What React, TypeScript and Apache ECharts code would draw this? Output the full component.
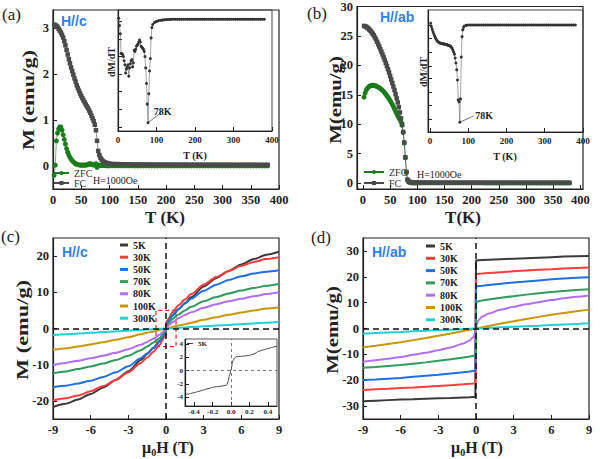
import React, { useEffect, useRef } from "react";
import * as echarts from "echarts";

// ---------- data ----------
const tLow = [2,4,6,8,10,12,14,16,18,20,22,24,26,28,30,32,34,36,38,40,42,44,46,48,50,52,54,56,58,60,62,64,66,68,70,72,74,76,78,80,82,84,86,88,90,92,94,96,98,100];
const tTail = [105,110,115,120,125,130,135,140,145,150,155,160,165,170,175,180,185,190,195,200,205,210,215,220,225,230,235,240,245,250,255,260,265,270,275,280,285,290,295,300,305,310,315,320,325,330,335,340,345,350,355,360,365,370,375,380];

// panel (a): H//c
const fcLowA = [3.08,3.07,3.05,3.03,2.99,2.95,2.91,2.86,2.80,2.72,2.63,2.53,2.43,2.33,2.24,2.15,2.07,1.99,1.91,1.84,1.76,1.70,1.64,1.58,1.53,1.48,1.43,1.39,1.34,1.30,1.26,1.21,1.16,1.10,1.04,0.98,0.90,0.78,0.55,0.33,0.24,0.18,0.14,0.11,0.09,0.08,0.07,0.06,0.055,0.05];
const fcTailA = [0.046,0.044,0.042,0.041,0.040,0.039,0.038,0.037,0.036,0.036,0.035,0.035,0.034,0.034,0.034,0.033,0.033,0.033,0.032,0.032,0.032,0.032,0.031,0.031,0.031,0.031,0.031,0.030,0.030,0.030,0.030,0.030,0.030,0.030,0.029,0.029,0.029,0.029,0.029,0.029,0.029,0.029,0.028,0.028,0.028,0.028,0.028,0.028,0.028,0.028,0.028,0.028,0.027,0.027,0.027,0.027];
const zfcLowA = [-0.2,0.02,0.55,0.72,0.81,0.85,0.85,0.78,0.68,0.58,0.48,0.38,0.30,0.24,0.19,0.15,0.12,0.09,0.07,0.05,0.04,0.03,0.025,0.02,0.02,0.02,0.02,0.02,0.02,0.025,0.03,0.05,0.05,0.04,0.03,0.02,0.03,0.05,-0.03,0.02,0.015,0.012,0.01,0.01,0.01,0.01,0.008,0.008,0.007,0.006];
const zfcTailA = [0.006,0.006,0.005,0.005,0.005,0.005,0.005,0.005,0.004,0.004,0.004,0.004,0.004,0.004,0.004,0.004,0.004,0.004,0.004,0.004,0.004,0.004,0.004,0.004,0.004,0.004,0.004,0.004,0.004,0.004,0.004,0.004,0.004,0.004,0.004,0.004,0.004,0.004,0.004,0.004,0.004,0.004,0.004,0.004,0.004,0.004,0.004,0.004,0.004,0.004,0.004,0.004,0.004,0.004,0.004,0.004];

// panel (b): H//ab
const fcLowB = [26.7,26.65,26.55,26.4,26.25,26.05,25.85,25.6,25.35,25.1,24.75,24.4,24.0,23.6,23.2,22.75,22.3,21.85,21.4,20.9,20.4,19.9,19.35,18.8,18.2,17.6,17.0,16.4,15.8,15.1,14.4,13.7,12.9,12.0,11.0,10.0,8.7,6.9,4.4,1.9,0.6,0.3,0.2,0.15,0.13,0.12,0.11,0.1,0.1,0.09];
const fcTailB = [0.09,0.088,0.086,0.084,0.082,0.08,0.079,0.078,0.077,0.076,0.075,0.074,0.073,0.072,0.071,0.07,0.07,0.069,0.069,0.068,0.068,0.067,0.067,0.066,0.066,0.065,0.065,0.065,0.064,0.064,0.064,0.063,0.063,0.063,0.062,0.062,0.062,0.061,0.061,0.061,0.061,0.06,0.06,0.06,0.06,0.06,0.059,0.059,0.059,0.059,0.059,0.058,0.058,0.058,0.058,0.058];
const zfcLowB = [14.6,15.3,15.8,16.1,16.3,16.45,16.55,16.6,16.6,16.6,16.55,16.5,16.4,16.3,16.2,16.05,15.9,15.75,15.55,15.35,15.1,14.85,14.6,14.3,14.0,13.7,13.35,13.0,12.6,12.2,11.8,11.4,11.1,10.8,10.4,9.8,8.6,6.8,4.3,1.8,0.5,0.2,0.12,0.08,0.06,0.05,0.05,0.04,0.04,0.04];
const zfcTailB = [0.035,0.034,0.034,0.033,0.033,0.032,0.032,0.031,0.031,0.03,0.03,0.03,0.029,0.029,0.029,0.028,0.028,0.028,0.027,0.027,0.027,0.026,0.026,0.026,0.025,0.025,0.025,0.025,0.024,0.024,0.024,0.024,0.023,0.023,0.023,0.023,0.022,0.022,0.022,0.022,0.022,0.021,0.021,0.021,0.021,0.021,0.021,0.02,0.02,0.02,0.02,0.02,0.02,0.02,0.02,0.02];

// insets dM/dT (arbitrary units, plateau = 0, dip = -1)
const tInset = [2,4,6,8,10,12,14,16,18,20,22,24,26,28,30,32,34,36,38,40,42,44,46,48,50,52,54,56,58,60,62,64,66,68,70,72,74,76,78,80,82,84,86,88,90,95,100];
const dmdtLowA = [0.01,-0.06,-0.14,-0.33,-0.33,-0.34,-0.36,-0.40,-0.44,-0.52,-0.48,-0.46,-0.44,-0.55,-0.47,-0.43,-0.40,-0.39,-0.46,-0.42,-0.30,-0.31,-0.29,-0.26,-0.25,-0.24,-0.22,-0.20,-0.22,-0.26,-0.27,-0.28,-0.29,-0.31,-0.36,-0.47,-0.62,-0.82,-1.0,-0.72,-0.50,-0.38,-0.18,-0.08,-0.05,-0.03,-0.02];
const dmdtLowB = [0.017,-0.017,-0.045,-0.07,-0.09,-0.11,-0.13,-0.144,-0.158,-0.168,-0.175,-0.18,-0.185,-0.188,-0.19,-0.192,-0.193,-0.195,-0.196,-0.198,-0.2,-0.202,-0.205,-0.208,-0.212,-0.216,-0.22,-0.23,-0.24,-0.257,-0.277,-0.3,-0.34,-0.39,-0.46,-0.565,-0.77,-0.79,-1.0,-0.76,-0.33,-0.12,-0.05,-0.024,-0.01,-0.004,0];
const dmdtTailA = [-0.015,-0.01,-0.008,-0.005,-0.003,-0.002,-0.001,0,0,0,0,0,0,0,0,0,0,0,0,0,0,0,0,0,0,0,0,0,0,0,0,0,0,0,0,0,0,0,0,0,0,0,0,0,0,0,0,0,0,0,0,0,0,0,0,0];
const dmdtTailB = [0,0,0,0,0,0,0,0,0,0,0,0,0,0,0,0,0,0,0,0,0,0,0,0,0,0,0,0,0,0,0,0,0,0,0,0,0,0,0,0,0,0,0,0,0,0,0,0,0,0,0,0,0,0,0,0];

// panel (c): M(H), H//c
const fieldC = [-9,-8,-7,-6,-5,-4,-3,-2,-1.5,-1,-0.5,-0.25,-0.05,0,0.05,0.25,0.5,1,1.5,2,3,4,5,6,7,8,9];
const m5C = [-21.7,-20.8,-19.6,-18.1,-16.3,-14.2,-11.8,-8.7,-7.0,-5.3,-3.4,-2.5,-2.1,0,2.0,2.4,3.5,5.3,7.0,8.6,11.6,13.9,15.9,17.7,19.2,20.4,21.2];
const m30C = [-19.9,-19.3,-18.5,-17.3,-15.9,-14.2,-12.1,-9.5,-8.0,-6.4,-4.5,-3.0,-1.6,0,1.6,3.0,4.5,6.4,8.0,9.5,12.1,14.2,15.9,17.3,18.4,19.2,19.7];
const m50C = [-16.2,-15.8,-15.2,-14.4,-13.4,-12.1,-10.4,-8.2,-6.9,-5.4,-3.6,-2.3,-1.0,0,1.0,2.3,3.6,5.4,6.9,8.2,10.4,12.1,13.4,14.4,15.2,15.7,16.1];
const m70C = [-12.4,-11.9,-11.2,-10.5,-9.7,-8.7,-7.5,-6.0,-5.0,-3.9,-2.6,-1.6,-0.6,0,0.6,1.6,2.6,3.9,5.0,6.0,7.5,8.7,9.7,10.5,11.2,11.8,12.3];
const m80C = [-10.1,-9.5,-8.9,-8.2,-7.5,-6.7,-5.7,-4.5,-3.7,-2.8,-1.7,-1.0,-0.35,0,0.35,1.0,1.7,2.8,3.7,4.5,5.7,6.7,7.5,8.2,8.9,9.5,10.0];
const m100C = [-5.9,-5.5,-5.0,-4.4,-3.8,-3.1,-2.4,-1.6,-1.2,-0.8,-0.4,-0.2,-0.04,0,0.04,0.2,0.4,0.8,1.2,1.6,2.4,3.1,3.8,4.4,5.0,5.5,5.9];
const m300C = [-1.8,-1.6,-1.4,-1.2,-1.0,-0.8,-0.6,-0.4,-0.3,-0.2,-0.1,-0.05,-0.01,0,0.01,0.05,0.1,0.2,0.3,0.4,0.6,0.8,1.0,1.2,1.4,1.6,1.8];

// inset of (c): 5 K low field
const fieldIn = [-0.5,-0.45,-0.4,-0.35,-0.3,-0.25,-0.2,-0.15,-0.1,-0.05,-0.03,-0.02,0,0.02,0.04,0.06,0.1,0.15,0.2,0.25,0.3,0.35,0.4,0.45,0.5];
const m5In = [-3.6,-3.45,-3.3,-3.1,-2.9,-2.7,-2.5,-2.4,-2.3,-2.2,-1.6,-0.9,0.1,1.5,1.9,2.1,2.15,2.2,2.3,2.5,2.9,3.1,3.3,3.5,3.7];

// panel (d): M(H), H//ab
const fieldD = [-9,-8,-7,-6,-5,-4,-3,-2,-1,-0.5,-0.2,-0.05,0,0,0.05,0.2,0.5,1,2,3,4,5,6,7,8,9];
const m5D = [-28.1,-27.9,-27.7,-27.5,-27.4,-27.2,-27.0,-26.9,-26.7,-26.6,-26.5,-26.5,-26.5,26.3,26.4,26.4,26.5,26.6,26.8,27.0,27.2,27.4,27.6,27.8,27.9,28.0];
const m30D = [-23.8,-23.5,-23.3,-23.0,-22.8,-22.5,-22.2,-21.9,-21.6,-21.4,-21.3,-21.2,-21.2,21.1,21.1,21.2,21.3,21.5,21.8,22.1,22.4,22.7,22.9,23.2,23.4,23.6];
const m50D = [-19.9,-19.7,-19.4,-19.1,-18.7,-18.3,-17.9,-17.4,-16.9,-16.6,-16.4,-16.3,-16.2,16.2,16.3,16.4,16.5,16.8,17.3,17.8,18.2,18.6,19.0,19.3,19.6,19.8];
const m70D = [-15.2,-14.9,-14.5,-14.1,-13.6,-13.1,-12.5,-11.9,-11.2,-10.8,-10.5,-10.1,-9.9,9.8,10.2,10.5,10.8,11.2,11.9,12.5,13.1,13.6,14.1,14.5,14.9,15.2];
const m80D = [-12.9,-12.3,-11.7,-11.0,-10.2,-9.4,-8.4,-7.3,-5.8,-4.6,-3.3,-1.5,0,0,1.5,3.3,4.6,5.8,7.3,8.4,9.4,10.2,11.0,11.7,12.3,12.8];
const m100D = [-7.3,-6.7,-6.0,-5.3,-4.5,-3.7,-2.8,-1.9,-1.0,-0.5,-0.2,-0.05,0,0,0.05,0.2,0.5,1.0,1.9,2.8,3.7,4.5,5.3,6.0,6.7,7.3];
const m300D = [-2.0,-1.78,-1.55,-1.33,-1.1,-0.89,-0.67,-0.44,-0.22,-0.1,-0.04,-0.01,0,0,0.01,0.04,0.1,0.22,0.44,0.67,0.89,1.1,1.33,1.55,1.78,2.0];

const tempNames = ["5K","30K","50K","70K","80K","100K","300K"];
const tempColors = ["#3a3a3a","#ff3b3b","#1f6fe0","#2f9b5c","#b06ff0","#c8960a","#1fd2d2"];

const ticksT = [0,50,100,150,200,250,300,350,400];
const ticksTin = [0,100,200,300,400];
const ticksMa = [0,1,2,3];
const ticksMb = [0,5,10,15,20,25,30];
const ticksH = [-9,-6,-3,0,3,6,9];
const ticksMc = [-20,-10,0,10,20];
const ticksMd = [-30,-20,-10,0,10,20,30];
const ticksHin = [-0.4,-0.2,0,0.2,0.4];
const ticksMin = [-4,-2,0,2,4];
const ticksDa = [-1.04,-0.87,-0.7,-0.53,-0.36,-0.19,-0.02];
const ticksDb = [-0.97,-0.83,-0.69,-0.55,-0.42,-0.28,-0.14,0];

// ---------- helpers ----------
const SERIF = "'Liberation Serif','Times New Roman',serif";
const SANS = "'Liberation Sans',Arial,sans-serif";
const INK = "#222";
const BLUE = "#2f80e8";

const zip = (xs: number[], ys: number[]) => xs.map((x, i) => [x, ys[i]]);

function axis(gridIndex: number, min: number, max: number, ticks: number[], fontSize: number, showLabel = true, fmt?: (v: number) => string) {
  return {
    gridIndex, type: "value", min, max,
    axisLine: { show: true, onZero: false, lineStyle: { color: INK, width: 1.2 } },
    axisTick: { show: true, inside: true, length: 4, customValues: ticks, lineStyle: { color: INK, width: 1 } },
    axisLabel: { show: showLabel, customValues: ticks, fontFamily: SERIF, fontWeight: "bold", fontSize, color: INK, margin: 4, formatter: fmt },
    splitLine: { show: false },
  };
}

function txt(text: string, x: number, y: number, style: any = {}, extra: any = {}) {
  return {
    type: "text", x, y, silent: true, ...extra,
    style: { text, fontFamily: SERIF, fontSize: 16, fill: INK, align: "left", verticalAlign: "middle", ...style },
  };
}

const muH = (x: number, y: number) => txt("{m|μ}{s|0}{m|H (T)}", x, y, {
  align: "center",
  rich: {
    m: { fontFamily: SERIF, fontWeight: "bold", fontSize: 16, lineHeight: 20, fill: INK },
    s: { fontFamily: SERIF, fontWeight: "bold", fontSize: 10, lineHeight: 10, verticalAlign: "bottom", fill: INK },
  },
});

export default function App() {
  const ref = useRef<HTMLDivElement>(null);
  useEffect(() => {
    if (!ref.current) return;
    const chart = echarts.init(ref.current, null, { renderer: "svg" });
    const tempK = [...tLow, ...tTail];
    const gridStyle = { show: true, borderColor: INK, borderWidth: 1.2, backgroundColor: "transparent" };

    const grids = [
      { left: 53, top: 10, width: 226, height: 179, ...gridStyle },   // a
      { left: 357, top: 6, width: 226, height: 183, ...gridStyle },   // b
      { left: 53, top: 238, width: 226, height: 181, ...gridStyle },  // c
      { left: 363, top: 238, width: 226, height: 181, ...gridStyle }, // d
      { left: 118, top: 10, width: 154, height: 121, ...gridStyle, borderColor: "#444", borderWidth: 1 }, // inset a
      { left: 428, top: 10, width: 155, height: 122, ...gridStyle, borderColor: "#444", borderWidth: 1 }, // inset b
      { left: 185, top: 339, width: 92, height: 67, ...gridStyle, borderColor: "#555", borderWidth: 1 },  // inset c
    ];

    const smallLabel = (ticks: number[], fmt?: (v: number) => string) => ({ customValues: ticks, fontFamily: SERIF, fontWeight: "bold", fontSize: 7, color: INK, margin: 2, formatter: fmt });
    const xAxes = [
      axis(0, 0, 400, ticksT, 12.5),
      axis(1, -11, 405, ticksT, 12.5),
      axis(2, -9, 9, ticksH, 12.5),
      axis(3, -9, 9, ticksH, 12.5),
      axis(4, 0, 400, ticksTin, 9),
      axis(5, -5, 400, ticksTin, 9),
      { ...axis(6, -0.5, 0.5, ticksHin, 7), axisLabel: smallLabel(ticksHin, (v: number) => v.toFixed(1)) },
    ];
    const yAxes = [
      axis(0, -0.5, 3.4, ticksMa, 12.5),
      axis(1, -1, 30, ticksMb, 12.5),
      axis(2, -25, 25, ticksMc, 12.5),
      axis(3, -35, 35, ticksMd, 12.5),
      axis(4, -1.08, 0.09, ticksDa, 9, false),
      axis(5, -1.1, 0.154, ticksDb, 9, false),
      { ...axis(6, -5.3, 4.75, ticksMin, 7), axisLabel: smallLabel(ticksMin) },
    ];

    const mtSeries = (name: string, idx: number, ys: number[], color: string, symbol: string) => ({
      name, type: "line", xAxisIndex: idx, yAxisIndex: idx,
      data: zip(tempK, ys), symbol, symbolSize: symbol === "rect" ? 4.5 : 5,
      itemStyle: { color }, lineStyle: { color, width: 0.6 }, silent: true,
    });

    const insetSeries = (idx: number, ys: number[], tail: number[], endCoord: number[]) => ({
      name: "dMdT" + idx, type: "line", xAxisIndex: idx, yAxisIndex: idx,
      data: zip([...tInset, ...tTail], [...ys, ...tail]), symbol: "circle", symbolSize: 3,
      itemStyle: { color: "#333" }, lineStyle: { color: "#666", width: 0.6 }, silent: true,
      markLine: {
        silent: true, symbol: ["none", "none"],
        lineStyle: { color: "#333", width: 0.7, type: "solid" },
        label: { show: true, position: "end", formatter: "78K", fontFamily: SERIF, fontWeight: "bold", fontSize: 10, color: INK, distance: 2 },
        data: [[{ coord: [78, -1.0] }, { coord: endCoord }]],
      },
    });

    const cSets = [m5C, m30C, m50C, m70C, m80C, m100C, m300C];
    const dSets = [m5D, m30D, m50D, m70D, m80D, m100D, m300D];

    const zeroLines = (color: string, width: number, dash: number[]) => ({
      silent: true, symbol: ["none", "none"], label: { show: false },
      lineStyle: { color, width, type: dash },
      data: [{ xAxis: 0 }, { yAxis: 0 }],
    });

    const series: any[] = [
      mtSeries("ZFC", 0, [...zfcLowA, ...zfcTailA], "#1a7d1a", "circle"),
      mtSeries("FC", 0, [...fcLowA, ...fcTailA], "#4a4a4a", "rect"),
      mtSeries("ZFC", 1, [...zfcLowB, ...zfcTailB], "#1a7d1a", "circle"),
      mtSeries("FC", 1, [...fcLowB, ...fcTailB], "#4a4a4a", "rect"),
      insetSeries(4, dmdtLowA, dmdtTailA, [112, -0.9]),
      insetSeries(5, dmdtLowB, dmdtTailB, [114, -0.935]),
    ];
    cSets.forEach((ys, i) => {
      const s: any = {
        name: tempNames[i], type: "line", xAxisIndex: 2, yAxisIndex: 2,
        data: zip(fieldC, ys), showSymbol: false, smooth: 0.25, smoothMonotone: "x",
        lineStyle: { color: tempColors[i], width: 2 }, itemStyle: { color: tempColors[i] }, silent: true,
      };
      if (i === 6) s.markLine = zeroLines("#111", 1.5, [6, 4]);
      if (i === 0) s.markArea = {
        silent: true,
        itemStyle: { color: "rgba(0,0,0,0)", borderColor: "#ff2020", borderWidth: 1.2, borderType: [4, 3] },
        data: [[{ coord: [-0.8, -5] }, { coord: [0.8, 5] }]],
      };
      series.push(s);
    });
    dSets.forEach((ys, i) => {
      const s: any = {
        name: tempNames[i], type: "line", xAxisIndex: 3, yAxisIndex: 3,
        data: zip(fieldD, ys), showSymbol: false, smooth: i === 4 ? 0.25 : false, smoothMonotone: "x",
        lineStyle: { color: tempColors[i], width: 2 }, itemStyle: { color: tempColors[i] }, silent: true,
      };
      if (i === 6) s.markLine = zeroLines("#111", 1.5, [6, 4]);
      series.push(s);
    });
    series.push({
      name: "5K-inset", type: "line", xAxisIndex: 6, yAxisIndex: 6,
      data: zip(fieldIn, m5In), showSymbol: false, smooth: 0.2, smoothMonotone: "x",
      lineStyle: { color: "#444", width: 1 }, itemStyle: { color: "#444" }, silent: true,
      markLine: zeroLines("#555", 0.8, [3, 3]),
    });

    const legendText = { fontFamily: SERIF, fontSize: 10, color: "#333" };
    const legendBold = { fontFamily: SERIF, fontSize: 10, fontWeight: "bold", color: INK };
    const legends = [
      { data: ["ZFC", "FC"], left: 53, top: 168, orient: "vertical", itemWidth: 15, itemHeight: 5, itemGap: 0, padding: 0, selectedMode: false, textStyle: legendText },
      { data: ["ZFC", "FC"], left: 363, top: 167, orient: "vertical", itemWidth: 20, itemHeight: 5, itemGap: 1, padding: 0, selectedMode: false, textStyle: legendText },
      { data: tempNames, left: 120, top: 240, orient: "vertical", icon: "rect", itemWidth: 8, itemHeight: 3, itemGap: 2.2, padding: 0, selectedMode: false, textStyle: legendBold },
      { data: tempNames, left: 426, top: 241, orient: "vertical", icon: "rect", itemWidth: 9, itemHeight: 3, itemGap: 2.3, padding: 0, selectedMode: false, textStyle: legendBold },
      { data: ["5K-inset"], left: 187, top: 340, orient: "vertical", icon: "rect", itemWidth: 6, itemHeight: 1, padding: 0, selectedMode: false, formatter: () => "5K", textStyle: { fontFamily: SERIF, fontSize: 7, fontWeight: "bold", color: INK } },
    ];

    const graphic = [
      txt("(a)", 2, 14, { fontSize: 17 }),
      txt("(b)", 307, 13, { fontSize: 17 }),
      txt("(c)", 1, 236, { fontSize: 17 }),
      txt("(d)", 311, 237, { fontSize: 17 }),
      txt("H//c", 61, 21, { fontFamily: SANS, fontWeight: "bold", fontSize: 14, fill: BLUE }),
      txt("H//ab", 380, 17, { fontFamily: SANS, fontWeight: "bold", fontSize: 14, fill: BLUE }),
      txt("H//c", 62, 252, { fontFamily: SANS, fontWeight: "bold", fontSize: 14, fill: BLUE }),
      txt("H//ab", 372, 252, { fontFamily: SANS, fontWeight: "bold", fontSize: 14, fill: BLUE }),
      txt("H=1000Oe", 93, 180, { fontSize: 10 }),
      txt("H=1000Oe", 417, 174, { fontSize: 10 }),
      txt("T (K)", 165, 217, { fontWeight: "bold", fontSize: 17, align: "center" }),
      txt("T(K)", 463, 217, { fontWeight: "bold", fontSize: 17, align: "center" }),
      muH(168, 447),
      muH(477, 447),
      txt("M (emu/g)", 29, 100, { fontWeight: "bold", fontSize: 16, align: "center" }, { rotation: Math.PI / 2, scaleX: 1.4 }),
      txt("M(emu/g)", 335, 100, { fontWeight: "bold", fontSize: 16, align: "center" }, { rotation: Math.PI / 2, scaleX: 1.3 }),
      txt("M (emu/g)", 23, 330, { fontWeight: "bold", fontSize: 16, align: "center" }, { rotation: Math.PI / 2, scaleX: 1.4 }),
      txt("M(emu/g)", 332, 330, { fontWeight: "bold", fontSize: 16, align: "center" }, { rotation: Math.PI / 2, scaleX: 1.3 }),
      txt("T (K)", 195, 155, { fontWeight: "bold", fontSize: 10, align: "center" }),
      txt("T (K)", 505, 156, { fontWeight: "bold", fontSize: 10, align: "center" }),
      txt("dM/dT", 111, 62, { fontWeight: "bold", fontSize: 10, align: "center" }, { rotation: Math.PI / 2 }),
      txt("dM/dT", 423, 72, { fontWeight: "bold", fontSize: 10, align: "center" }, { rotation: Math.PI / 2 }),
    ];

    chart.setOption({
      animation: false,
      backgroundColor: "#ffffff",
      grid: grids,
      xAxis: xAxes,
      yAxis: yAxes,
      legend: legends,
      series,
      graphic,
    });
    return () => chart.dispose();
  }, []);
  return <div ref={ref} style={{ width: 600, height: 459, position: "absolute", left: 0, top: 0 }} />;
}
